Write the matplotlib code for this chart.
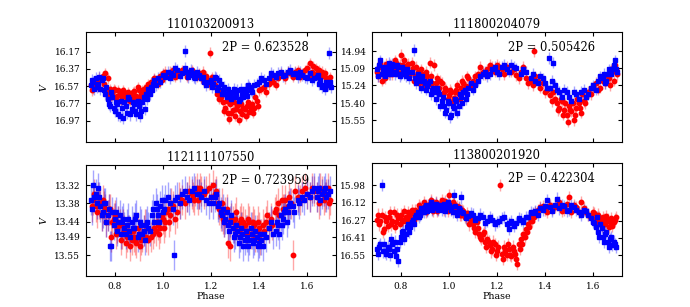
import numpy as np
import matplotlib
matplotlib.use('Agg')
import matplotlib.pyplot as plt

plt.rcParams['font.family'] = 'DejaVu Serif'
plt.rcParams['mathtext.fontset'] = 'dejavuserif'

titles = ['110103200913', '111800204079', '112111107550', '113800201920']
periods = ['0.623528', '0.505426', '0.723959', '0.422304']

# tick labels as printed on each panel
yticks_1 = ['16.17', '16.37', '16.57', '16.77', '16.97']
yticks_2 = ['14.94', '15.09', '15.24', '15.40', '15.55']
yticks_3 = ['13.32', '13.38', '13.44', '13.49', '13.55']
yticks_4 = ['15.98', '16.12', '16.27', '16.41', '16.55']
ylims = [(17.22, 15.94), (15.74, 14.77), (13.619, 13.254), (16.72, 15.80)]
xticks = [0.8, 1.0, 1.2, 1.4, 1.6]

# ---- panel 1 : 110103200913
red1_phase = [0.70, 0.71, 0.72, 0.73, 0.74, 0.75, 0.76, 0.77, 0.78, 0.79, 0.80, 0.81, 0.82, 0.83,
              0.84, 0.85, 0.86, 0.87, 0.88, 0.89, 0.90, 0.91, 0.92, 0.93, 0.94, 0.95, 0.96, 0.97,
              0.99, 1.00, 1.02, 1.03, 1.05, 1.07, 1.09, 1.11, 1.13, 1.15, 1.16, 1.17, 1.18, 1.19,
              1.197, 1.21, 1.22, 1.23, 1.24, 1.25, 1.26, 1.27, 1.28, 1.29, 1.30, 1.31, 1.32, 1.33,
              1.34, 1.35, 1.36, 1.37, 1.38, 1.39, 1.40, 1.42, 1.44, 1.46, 1.48, 1.50, 1.52, 1.54,
              1.56, 1.58, 1.60, 1.61, 1.62, 1.63, 1.64, 1.65, 1.67, 1.68, 1.69,
              0.705, 0.715, 0.735, 0.755, 0.765, 0.775, 0.785, 0.795, 0.805, 0.815, 0.825, 0.835,
              0.845, 0.855, 0.865, 0.875, 0.885, 0.895, 0.905, 0.915, 0.935, 0.945, 0.965, 0.98,
              0.995, 1.01, 1.04, 1.06, 1.08, 1.10, 1.12, 1.14, 1.165, 1.185, 1.205, 1.215, 1.225,
              1.235, 1.245, 1.255, 1.265, 1.275, 1.285, 1.295, 1.305, 1.315, 1.325, 1.335, 1.345,
              1.355, 1.365, 1.375, 1.385, 1.395, 1.41, 1.43, 1.45, 1.47, 1.49, 1.51, 1.53, 1.55,
              1.57, 1.59, 1.615, 1.625, 1.635, 1.645, 1.655, 1.66, 1.675, 1.685, 1.695]
red1_mag = [16.56, 16.60, 16.53, 16.58, 16.50, 16.45, 16.42, 16.48, 16.60, 16.65, 16.62, 16.68, 16.66, 16.70,
            16.64, 16.72, 16.66, 16.70, 16.63, 16.68, 16.62, 16.66, 16.60, 16.58, 16.55, 16.52, 16.54, 16.50,
            16.45, 16.42, 16.44, 16.40, 16.46, 16.43, 16.40, 16.41, 16.44, 16.42, 16.47, 16.52, 16.45, 16.55,
            16.18, 16.50, 16.58, 16.62, 16.70, 16.75, 16.82, 16.88, 16.78, 16.85, 16.92, 16.80, 16.86, 16.90,
            16.84, 16.80, 16.87, 16.78, 16.83, 16.74, 16.62, 16.58, 16.55, 16.52, 16.48, 16.44, 16.40, 16.46,
            16.38, 16.42, 16.36, 16.30, 16.40, 16.44, 16.42, 16.38, 16.45, 16.48, 16.50,
            16.62, 16.55, 16.47, 16.55, 16.62, 16.66, 16.70, 16.60, 16.72, 16.62, 16.74, 16.62,
            16.68, 16.64, 16.74, 16.64, 16.70, 16.58, 16.70, 16.62, 16.64, 16.58, 16.48, 16.54,
            16.50, 16.40, 16.38, 16.44, 16.38, 16.46, 16.38, 16.46, 16.40, 16.50, 16.46, 16.56, 16.66,
            16.72, 16.64, 16.86, 16.74, 16.95, 16.88, 16.76, 16.84, 16.96, 16.78, 16.82, 16.92,
            16.76, 16.82, 16.88, 16.70, 16.80, 16.60, 16.64, 16.50, 16.56, 16.42, 16.48, 16.42, 16.40,
            16.46, 16.38, 16.44, 16.34, 16.36, 16.46, 16.44, 16.40, 16.42, 16.54, 16.46]
blue1_phase = [0.70, 0.71, 0.72, 0.73, 0.74, 0.745, 0.75, 0.76, 0.77, 0.78, 0.79, 0.80, 0.81, 0.82,
               0.83, 0.84, 0.85, 0.86, 0.87, 0.88, 0.89, 0.90, 0.91, 0.92, 0.93, 0.94, 0.95, 0.96,
               0.97, 0.98, 1.00, 1.02, 1.03, 1.04, 1.06, 1.08, 1.10, 1.093, 1.12, 1.13, 1.14, 1.16,
               1.17, 1.18, 1.20, 1.21, 1.22, 1.23, 1.24, 1.25, 1.26, 1.27, 1.28, 1.29, 1.30, 1.31,
               1.32, 1.33, 1.34, 1.35, 1.36, 1.37, 1.38, 1.40, 1.42, 1.44, 1.46, 1.48, 1.50, 1.52,
               1.54, 1.56, 1.58, 1.60, 1.62, 1.64, 1.65, 1.66, 1.67, 1.68, 1.692, 1.70,
               0.705, 0.715, 0.725, 0.735, 0.755, 0.765, 0.775, 0.785, 0.795, 0.805, 0.815, 0.825,
               0.835, 0.845, 0.855, 0.865, 0.875, 0.885, 0.895, 0.905, 0.915, 0.925, 0.935, 0.945,
               0.955, 0.965, 0.99, 1.01, 1.035, 1.05, 1.07, 1.09, 1.105, 1.115, 1.125, 1.135, 1.15,
               1.165, 1.19, 1.205, 1.215, 1.225, 1.235, 1.245, 1.255, 1.265, 1.275, 1.285, 1.295,
               1.305, 1.315, 1.325, 1.335, 1.345, 1.355, 1.365, 1.39, 1.41, 1.43, 1.45, 1.47, 1.49,
               1.51, 1.53, 1.55, 1.57, 1.59, 1.61, 1.63, 1.645, 1.655, 1.675, 1.685, 1.695]
blue1_mag = [16.56, 16.52, 16.48, 16.55, 16.60, 16.50, 16.47, 16.66, 16.72, 16.80, 16.70, 16.86, 16.78, 16.92,
             16.82, 16.76, 16.88, 16.72, 16.84, 16.78, 16.90, 16.80, 16.86, 16.70, 16.66, 16.60, 16.58, 16.54,
             16.56, 16.48, 16.44, 16.40, 16.48, 16.44, 16.38, 16.42, 16.40, 16.16, 16.44, 16.46, 16.40, 16.48,
             16.52, 16.56, 16.50, 16.55, 16.48, 16.58, 16.54, 16.62, 16.66, 16.60, 16.68, 16.64, 16.70, 16.62,
             16.72, 16.66, 16.60, 16.68, 16.58, 16.64, 16.56, 16.52, 16.50, 16.47, 16.44, 16.42, 16.45, 16.40,
             16.43, 16.46, 16.44, 16.48, 16.50, 16.46, 16.54, 16.58, 16.56, 16.52, 16.18, 16.58,
             16.50, 16.60, 16.58, 16.46, 16.62, 16.58, 16.78, 16.64, 16.82, 16.76, 16.90, 16.74,
             16.94, 16.80, 16.70, 16.90, 16.76, 16.86, 16.74, 16.92, 16.76, 16.84, 16.72, 16.66,
             16.62, 16.50, 16.52, 16.46, 16.42, 16.36, 16.45, 16.36, 16.46, 16.38, 16.42, 16.48, 16.44,
             16.46, 16.52, 16.58, 16.46, 16.62, 16.50, 16.66, 16.58, 16.70, 16.64, 16.72, 16.60,
             16.66, 16.74, 16.60, 16.70, 16.64, 16.56, 16.62, 16.54, 16.48, 16.54, 16.42, 16.46, 16.40,
             16.44, 16.38, 16.42, 16.40, 16.46, 16.42, 16.48, 16.44, 16.50, 16.60, 16.56, 16.52]

# ---- panel 2 : 111800204079
red2_phase = [0.70, 0.71, 0.72, 0.73, 0.74, 0.75, 0.76, 0.77, 0.78, 0.79, 0.80, 0.81, 0.82, 0.83,
              0.84, 0.85, 0.86, 0.87, 0.88, 0.89, 0.90, 0.91, 0.92, 0.93, 0.94, 0.95, 0.96, 0.97,
              0.98, 0.99, 1.00, 1.01, 1.02, 1.03, 1.04, 1.05, 1.06, 1.07, 1.08, 1.10, 1.12, 1.14,
              1.16, 1.18, 1.20, 1.22, 1.24, 1.355, 1.26, 1.28, 1.30, 1.32, 1.34, 1.36, 1.38, 1.39,
              1.40, 1.42, 1.44, 1.45, 1.46, 1.47, 1.48, 1.49, 1.50, 1.51, 1.52, 1.53, 1.54, 1.55,
              1.56, 1.57, 1.58, 1.60, 1.62, 1.64, 1.66, 1.67, 1.68, 1.69, 1.70,
              0.705, 0.715, 0.725, 0.735, 0.745, 0.755, 0.765, 0.775, 0.785, 0.795, 0.805, 0.815,
              0.825, 0.835, 0.845, 0.855, 0.865, 0.875, 0.885, 0.895, 0.905, 0.915, 0.925, 0.935,
              0.945, 0.955, 0.965, 0.975, 0.985, 0.995, 1.005, 1.015, 1.025, 1.035, 1.045, 1.055,
              1.065, 1.075, 1.09, 1.11, 1.13, 1.15, 1.17, 1.19, 1.21, 1.23, 1.27, 1.29, 1.31, 1.33,
              1.35, 1.37, 1.41, 1.43, 1.435, 1.455, 1.465, 1.475, 1.485, 1.495, 1.505, 1.515, 1.525,
              1.535, 1.545, 1.555, 1.565, 1.59, 1.61, 1.63, 1.65, 1.665, 1.675, 1.685, 1.695]
red2_mag = [15.12, 15.08, 15.20, 15.10, 15.05, 15.14, 15.07, 15.10, 15.04, 15.08, 14.97, 15.06, 15.10, 15.05,
            15.13, 15.09, 15.16, 15.12, 15.18, 15.14, 15.20, 15.16, 15.04, 15.22, 15.06, 15.18, 15.26, 15.22,
            15.30, 15.28, 15.33, 15.30, 15.35, 15.28, 15.32, 15.26, 15.22, 15.25, 15.18, 15.20, 15.14, 15.12,
            15.10, 15.08, 15.06, 15.10, 15.08, 14.94, 15.12, 15.15, 15.12, 15.18, 15.20, 15.16, 15.26, 15.22,
            15.30, 15.33, 15.36, 15.40, 15.44, 15.38, 15.46, 15.50, 15.42, 15.47, 15.55, 15.44, 15.40, 15.48,
            15.38, 15.34, 15.30, 15.26, 15.28, 15.20, 15.16, 15.24, 15.12, 15.06, 15.14,
            15.16, 15.04, 15.12, 15.18, 15.10, 15.06, 15.14, 15.02, 15.12, 15.06, 15.12, 15.02,
            15.08, 15.14, 15.04, 15.20, 15.08, 15.22, 15.10, 15.24, 15.12, 15.24, 15.16, 15.26,
            15.22, 15.28, 15.20, 15.32, 15.26, 15.36, 15.28, 15.38, 15.30, 15.24, 15.36, 15.20,
            15.30, 15.16, 15.24, 15.16, 15.08, 15.14, 15.06, 15.12, 15.08, 15.14, 15.10, 15.18, 15.08, 15.22,
            15.24, 15.20, 15.28, 15.38, 15.30, 15.46, 15.36, 15.50, 15.40, 15.56, 15.46, 15.40, 15.50,
            15.36, 15.44, 15.32, 15.40, 15.32, 15.22, 15.26, 15.22, 15.18, 15.10, 15.20, 15.10]
blue2_phase = [0.70, 0.71, 0.72, 0.73, 0.74, 0.75, 0.76, 0.77, 0.78, 0.79, 0.80, 0.81, 0.82, 0.83,
               0.855, 0.86, 0.87, 0.88, 0.89, 0.90, 0.91, 0.92, 0.93, 0.94, 0.95, 0.96, 0.97, 0.98,
               0.99, 1.00, 1.01, 1.02, 1.03, 1.04, 1.05, 1.06, 1.07, 1.08, 1.10, 1.12, 1.14, 1.16,
               1.18, 1.20, 1.22, 1.24, 1.26, 1.28, 1.415, 1.30, 1.32, 1.435, 1.34, 1.36, 1.38, 1.40,
               1.42, 1.44, 1.46, 1.48, 1.50, 1.52, 1.54, 1.56, 1.58, 1.60, 1.62, 1.64, 1.65, 1.66,
               1.68, 1.69, 1.70,
               0.705, 0.715, 0.725, 0.735, 0.745, 0.755, 0.765, 0.775, 0.785, 0.795, 0.805, 0.815,
               0.825, 0.835, 0.845, 0.865, 0.875, 0.885, 0.895, 0.905, 0.915, 0.925, 0.935, 0.945,
               0.955, 0.965, 0.975, 0.985, 0.995, 1.005, 1.015, 1.025, 1.035, 1.045, 1.055, 1.065,
               1.075, 1.09, 1.11, 1.13, 1.15, 1.17, 1.19, 1.21, 1.23, 1.25, 1.27, 1.31, 1.35, 1.37,
               1.39, 1.41, 1.43, 1.45, 1.47, 1.49, 1.51, 1.53, 1.55, 1.57, 1.59, 1.61, 1.63, 1.645,
               1.655, 1.665, 1.675, 1.685, 1.695]
blue2_mag = [15.10, 15.06, 15.14, 15.08, 15.12, 15.04, 15.10, 15.07, 15.12, 15.08, 15.14, 15.10, 15.16, 15.12,
             14.93, 15.18, 15.14, 15.20, 15.16, 15.22, 15.25, 15.20, 15.28, 15.30, 15.26, 15.32, 15.38, 15.42,
             15.46, 15.40, 15.50, 15.44, 15.38, 15.42, 15.34, 15.30, 15.36, 15.26, 15.28, 15.20, 15.14, 15.16,
             15.10, 15.12, 15.08, 15.10, 15.06, 15.09, 15.00, 15.14, 15.12, 15.04, 15.18, 15.20, 15.16, 15.22,
             15.26, 15.24, 15.30, 15.28, 15.34, 15.30, 15.36, 15.28, 15.32, 15.24, 15.20, 15.18, 15.22, 15.14,
             15.10, 15.02, 15.12,
             15.16, 15.02, 15.10, 15.16, 15.08, 15.14, 15.05, 15.14, 15.06, 15.16, 15.08, 15.14,
             15.10, 15.18, 15.12, 15.22, 15.16, 15.26, 15.20, 15.28, 15.22, 15.32, 15.26, 15.36,
             15.30, 15.42, 15.34, 15.48, 15.38, 15.52, 15.42, 15.36, 15.48, 15.32, 15.40, 15.28,
             15.32, 15.22, 15.24, 15.16, 15.12, 15.14, 15.08, 15.14, 15.06, 15.12, 15.08, 15.10, 15.14, 15.22,
             15.18, 15.26, 15.20, 15.28, 15.34, 15.30, 15.38, 15.32, 15.30, 15.34, 15.26, 15.28, 15.16, 15.14,
             15.20, 15.10, 15.14, 15.06, 15.10]

# ---- panel 3 : 112111107550
red3_phase = [0.71, 0.72, 0.73, 0.74, 0.75, 0.76, 0.77, 0.78, 0.79, 0.80, 0.81, 0.82, 0.83, 0.84,
              0.85, 0.86, 0.87, 0.88, 0.89, 0.90, 0.91, 0.92, 0.93, 0.96, 0.97, 0.98, 0.99, 1.00,
              1.01, 1.02, 1.03, 1.04, 1.06, 1.07, 1.08, 1.10, 1.12, 1.13, 1.14, 1.15, 1.16, 1.18,
              1.20, 1.21, 1.22, 1.23, 1.24, 1.25, 1.26, 1.27, 1.28, 1.29, 1.30, 1.31, 1.32, 1.33,
              1.34, 1.35, 1.36, 1.37, 1.38, 1.39, 1.40, 1.41, 1.43, 1.44, 1.45, 1.47, 1.48, 1.50,
              1.51, 1.52, 1.54, 1.56, 1.58, 1.60, 1.62, 1.64, 1.66, 1.67, 1.68, 1.69,
              0.705, 0.715, 0.725, 0.735, 0.745, 0.755, 0.765, 0.775, 0.785, 0.795, 0.805, 0.815,
              0.825, 0.835, 0.845, 0.855, 0.865, 0.875, 0.885, 0.895, 0.905, 0.915, 0.925, 0.94,
              0.95, 0.965, 0.975, 0.985, 0.995, 1.005, 1.015, 1.025, 1.035, 1.05, 1.065, 1.09, 1.11,
              1.125, 1.135, 1.145, 1.155, 1.17, 1.19, 1.215, 1.235, 1.245, 1.255, 1.265, 1.285, 1.295,
              1.305, 1.315, 1.325, 1.335, 1.345, 1.355, 1.365, 1.375, 1.385, 1.395, 1.405, 1.415,
              1.42, 1.435, 1.455, 1.465, 1.485, 1.495, 1.505, 1.525, 1.535, 1.55, 1.57, 1.59, 1.61,
              1.63, 1.65, 1.655, 1.675, 1.685, 1.695]
red3_mag = [13.37, 13.39, 13.36, 13.38, 13.37, 13.40, 13.42, 13.40, 13.44, 13.42, 13.46, 13.45, 13.48, 13.47,
            13.49, 13.48, 13.50, 13.49, 13.51, 13.48, 13.50, 13.47, 13.49, 13.48, 13.47, 13.45, 13.46, 13.43,
            13.44, 13.40, 13.42, 13.39, 13.41, 13.38, 13.37, 13.36, 13.35, 13.37, 13.33, 13.35, 13.34, 13.34,
            13.36, 13.32, 13.34, 13.38, 13.42, 13.43, 13.41, 13.51, 13.52, 13.44, 13.43, 13.45, 13.44, 13.46,
            13.45, 13.47, 13.44, 13.46, 13.45, 13.47, 13.46, 13.48, 13.44, 13.46, 13.43, 13.40, 13.38, 13.40,
            13.37, 13.39, 13.55, 13.36, 13.34, 13.35, 13.33, 13.36, 13.34, 13.37, 13.35, 13.38,
            13.39, 13.35, 13.41, 13.38, 13.42, 13.39, 13.44, 13.40, 13.49, 13.43, 13.48, 13.44,
            13.50, 13.45, 13.51, 13.47, 13.52, 13.47, 13.50, 13.46, 13.52, 13.49, 13.45, 13.50,
            13.49, 13.46, 13.44, 13.48, 13.42, 13.46, 13.41, 13.44, 13.38, 13.43, 13.36, 13.38, 13.34,
            13.36, 13.34, 13.37, 13.33, 13.35, 13.33, 13.35, 13.40, 13.38, 13.44, 13.40, 13.43, 13.46,
            13.41, 13.47, 13.43, 13.44, 13.48, 13.43, 13.48, 13.44, 13.49, 13.44, 13.50, 13.45,
            13.47, 13.42, 13.45, 13.41, 13.42, 13.37, 13.40, 13.36, 13.38, 13.34, 13.37, 13.33, 13.36,
            13.34, 13.38, 13.33, 13.36, 13.33, 13.37]
blue3_phase = [0.70, 0.71, 0.72, 0.73, 0.74, 0.75, 0.76, 0.77, 0.78, 0.785, 0.79, 0.80, 0.81, 0.82,
               0.83, 0.84, 0.85, 0.86, 0.87, 0.88, 0.89, 0.90, 0.91, 0.92, 0.93, 0.94, 0.96, 0.97,
               0.98, 0.99, 1.00, 1.01, 1.03, 1.045, 1.05, 1.06, 1.08, 1.10, 1.12, 1.14, 1.16, 1.18,
               1.20, 1.21, 1.22, 1.23, 1.24, 1.25, 1.26, 1.27, 1.28, 1.29, 1.30, 1.31, 1.32, 1.33,
               1.34, 1.35, 1.36, 1.37, 1.38, 1.39, 1.40, 1.41, 1.42, 1.44, 1.45, 1.47, 1.48, 1.49,
               1.50, 1.51, 1.52, 1.53, 1.54, 1.56, 1.58, 1.60, 1.62, 1.64, 1.65, 1.66, 1.67, 1.68,
               0.705, 0.715, 0.725, 0.735, 0.745, 0.755, 0.765, 0.775, 0.795, 0.805, 0.815, 0.825,
               0.835, 0.845, 0.855, 0.865, 0.875, 0.885, 0.895, 0.905, 0.915, 0.925, 0.935, 0.945,
               0.955, 0.965, 0.975, 0.985, 0.995, 1.005, 1.02, 1.04, 1.07, 1.09, 1.11, 1.13, 1.15,
               1.17, 1.19, 1.215, 1.235, 1.245, 1.255, 1.265, 1.275, 1.285, 1.295, 1.305, 1.315,
               1.325, 1.335, 1.345, 1.355, 1.365, 1.375, 1.385, 1.395, 1.405, 1.415, 1.43, 1.46,
               1.475, 1.485, 1.495, 1.505, 1.515, 1.525, 1.545, 1.565, 1.585, 1.61, 1.63, 1.645,
               1.655, 1.675, 1.685, 1.695]
blue3_mag = [13.37, 13.32, 13.35, 13.33, 13.39, 13.41, 13.38, 13.42, 13.52, 13.52, 13.41, 13.43, 13.47, 13.42,
             13.44, 13.46, 13.45, 13.47, 13.44, 13.46, 13.42, 13.48, 13.45, 13.47, 13.45, 13.46, 13.40, 13.38,
             13.42, 13.39, 13.41, 13.37, 13.38, 13.55, 13.37, 13.36, 13.35, 13.36, 13.34, 13.35, 13.36, 13.37,
             13.36, 13.38, 13.35, 13.39, 13.41, 13.40, 13.43, 13.45, 13.44, 13.46, 13.48, 13.47, 13.49, 13.48,
             13.50, 13.49, 13.50, 13.48, 13.50, 13.49, 13.51, 13.50, 13.48, 13.46, 13.44, 13.47, 13.45, 13.42,
             13.43, 13.40, 13.41, 13.38, 13.39, 13.37, 13.36, 13.35, 13.34, 13.36, 13.33, 13.35, 13.34, 13.36,
             13.40, 13.36, 13.38, 13.36, 13.42, 13.38, 13.44, 13.40, 13.45, 13.41, 13.44, 13.48,
             13.43, 13.48, 13.43, 13.49, 13.46, 13.43, 13.49, 13.44, 13.48, 13.50, 13.44, 13.47,
             13.42, 13.44, 13.40, 13.44, 13.37, 13.40, 13.36, 13.40, 13.38, 13.34, 13.37, 13.33, 13.35,
             13.34, 13.38, 13.36, 13.38, 13.42, 13.44, 13.41, 13.47, 13.42, 13.49, 13.45, 13.51,
             13.46, 13.52, 13.47, 13.52, 13.46, 13.51, 13.47, 13.52, 13.48, 13.52, 13.49, 13.48,
             13.44, 13.48, 13.45, 13.41, 13.44, 13.39, 13.41, 13.38, 13.37, 13.36, 13.33, 13.34,
             13.37, 13.33, 13.35, 13.34]

# ---- panel 4 : 113800201920
red4_phase = [0.70, 0.71, 0.72, 0.73, 0.74, 0.75, 0.76, 0.77, 0.78, 0.79, 0.80, 0.81, 0.82, 0.83,
              0.84, 0.85, 0.86, 0.87, 0.88, 0.89, 0.90, 0.91, 0.92, 0.93, 0.94, 0.95, 0.96, 0.97,
              0.98, 0.99, 1.00, 1.01, 1.02, 1.03, 1.04, 1.05, 1.06, 1.07, 1.08, 1.09, 1.10, 1.11,
              1.12, 1.13, 1.14, 1.15, 1.16, 1.17, 1.18, 1.19, 1.20, 1.214, 1.22, 1.23, 1.24, 1.25,
              1.26, 1.27, 1.28, 1.29, 1.30, 1.31, 1.32, 1.33, 1.34, 1.35, 1.36, 1.38, 1.40, 1.42,
              1.44, 1.46, 1.48, 1.50, 1.52, 1.54, 1.56, 1.58, 1.60, 1.61, 1.62, 1.63, 1.64, 1.65,
              1.66, 1.67, 1.68, 1.69,
              0.705, 0.715, 0.725, 0.735, 0.745, 0.755, 0.765, 0.775, 0.785, 0.795, 0.805, 0.815,
              0.825, 0.835, 0.845, 0.855, 0.865, 0.875, 0.885, 0.895, 0.905, 0.915, 0.925, 0.935,
              0.945, 0.955, 0.965, 0.975, 0.985, 0.995, 1.005, 1.015, 1.025, 1.035, 1.045, 1.055,
              1.065, 1.075, 1.085, 1.095, 1.105, 1.115, 1.125, 1.135, 1.145, 1.155, 1.165, 1.175,
              1.185, 1.195, 1.205, 1.225, 1.235, 1.245, 1.255, 1.265, 1.275, 1.285, 1.295, 1.305,
              1.315, 1.325, 1.335, 1.345, 1.355, 1.37, 1.39, 1.41, 1.43, 1.45, 1.47, 1.49, 1.51,
              1.53, 1.55, 1.57, 1.59, 1.605, 1.615, 1.625, 1.635, 1.645, 1.655, 1.665, 1.675,
              1.685, 1.695]
red4_mag = [16.26, 16.30, 16.22, 16.34, 16.27, 16.24, 16.30, 16.20, 16.28, 16.25, 16.22, 16.27, 16.24, 16.20,
            16.25, 16.21, 16.18, 16.22, 16.16, 16.20, 16.15, 16.18, 16.13, 16.17, 16.14, 16.19, 16.16, 16.10,
            16.18, 16.15, 16.06, 16.17, 16.13, 16.20, 16.16, 16.22, 16.19, 16.25, 16.23, 16.27, 16.30, 16.36,
            16.33, 16.40, 16.38, 16.44, 16.42, 16.47, 16.50, 16.46, 16.52, 15.98, 16.54, 16.48, 16.55, 16.50,
            16.56, 16.52, 16.58, 16.46, 16.42, 16.38, 16.34, 16.30, 16.26, 16.22, 16.20, 16.16, 16.18, 16.14,
            16.16, 16.12, 16.18, 16.08, 16.14, 16.20, 16.17, 16.22, 16.20, 16.25, 16.22, 16.27, 16.24, 16.30,
            16.26, 16.28, 16.31, 16.26,
            16.22, 16.27, 16.36, 16.24, 16.31, 16.20, 16.27, 16.32, 16.22, 16.30, 16.26, 16.19,
            16.28, 16.23, 16.18, 16.26, 16.21, 16.14, 16.19, 16.12, 16.20, 16.14, 16.10, 16.19,
            16.12, 16.17, 16.13, 16.16, 16.11, 16.19, 16.14, 16.12, 16.18, 16.15, 16.22, 16.18,
            16.24, 16.21, 16.30, 16.24, 16.33, 16.28, 16.38, 16.42, 16.36, 16.48, 16.44, 16.52,
            16.44, 16.55, 16.48, 16.58, 16.52, 16.46, 16.55, 16.48, 16.54, 16.62, 16.50, 16.46,
            16.40, 16.36, 16.32, 16.27, 16.24, 16.18, 16.15, 16.20, 16.17, 16.14, 16.19, 16.13, 16.20,
            16.16, 16.12, 16.20, 16.24, 16.21, 16.28, 16.24, 16.31, 16.26, 16.23, 16.32, 16.25,
            16.28, 16.24]
blue4_phase = [0.70, 0.71, 0.72, 0.725, 0.73, 0.74, 0.75, 0.76, 0.77, 0.78, 0.79, 0.80, 0.81, 0.82,
               0.83, 0.84, 0.85, 0.86, 0.87, 0.88, 0.89, 0.90, 0.91, 0.92, 0.93, 0.94, 0.95, 0.96,
               0.97, 0.98, 0.99, 1.00, 1.01, 1.02, 1.03, 1.04, 1.05, 1.06, 1.08, 1.10, 1.12, 1.14,
               1.16, 1.18, 1.20, 1.22, 1.24, 1.25, 1.26, 1.28, 1.30, 1.32, 1.34, 1.36, 1.38, 1.40,
               1.41, 1.42, 1.44, 1.45, 1.46, 1.48, 1.50, 1.52, 1.54, 1.56, 1.58, 1.60, 1.61, 1.62,
               1.63, 1.64, 1.65, 1.66, 1.67, 1.68, 1.69,
               0.705, 0.715, 0.735, 0.745, 0.755, 0.765, 0.775, 0.785, 0.795, 0.805, 0.815, 0.825,
               0.835, 0.845, 0.855, 0.865, 0.875, 0.885, 0.895, 0.905, 0.915, 0.925, 0.935, 0.945,
               0.955, 0.965, 0.975, 0.985, 0.995, 1.005, 1.015, 1.025, 1.035, 1.045, 1.055, 1.07,
               1.09, 1.11, 1.13, 1.15, 1.17, 1.19, 1.21, 1.23, 1.25, 1.27, 1.29, 1.31, 1.33, 1.35,
               1.37, 1.39, 1.43, 1.47, 1.49, 1.51, 1.53, 1.55, 1.57, 1.59, 1.605, 1.615, 1.625,
               1.635, 1.645, 1.655, 1.665, 1.675, 1.685, 1.695]
blue4_mag = [16.50, 16.48, 15.98, 16.52, 16.46, 16.54, 16.50, 16.42, 16.52, 16.56, 16.60, 16.40, 16.35, 16.38,
             16.30, 16.32, 16.26, 16.24, 16.20, 16.22, 16.18, 16.16, 16.19, 16.15, 16.18, 16.14, 16.17, 16.15,
             16.18, 16.13, 16.16, 16.14, 16.18, 16.06, 16.20, 16.17, 16.08, 16.21, 16.23, 16.22, 16.25, 16.24,
             16.27, 16.26, 16.28, 16.25, 16.30, 16.34, 16.27, 16.29, 16.26, 16.24, 16.20, 16.19, 16.17, 16.15,
             16.10, 16.16, 16.14, 16.09, 16.17, 16.15, 16.18, 16.16, 16.20, 16.18, 16.22, 16.28, 16.32, 16.36,
             16.30, 16.40, 16.38, 16.44, 16.42, 16.47, 16.46,
             16.54, 16.46, 16.52, 16.48, 16.55, 16.46, 16.44, 16.50, 16.44, 16.36, 16.42, 16.32,
             16.36, 16.28, 16.30, 16.22, 16.24, 16.17, 16.20, 16.14, 16.17, 16.12, 16.16, 16.13,
             16.18, 16.14, 16.16, 16.19, 16.12, 16.16, 16.20, 16.15, 16.22, 16.18, 16.20, 16.25,
             16.21, 16.26, 16.22, 16.29, 16.24, 16.30, 16.27, 16.24, 16.29, 16.31, 16.25, 16.28, 16.24, 16.21,
             16.22, 16.18, 16.19, 16.14, 16.19, 16.14, 16.18, 16.22, 16.19, 16.25, 16.29, 16.24, 16.40,
             16.33, 16.44, 16.36, 16.48, 16.40, 16.44, 16.48]

# typical photometric errors
red_err = [0.06, 0.05, 0.05, 0.05]
blue_err = [0.07, 0.05, 0.05, 0.05]

panels = [
    (red1_phase, red1_mag, blue1_phase, blue1_mag, yticks_1),
    (red2_phase, red2_mag, blue2_phase, blue2_mag, yticks_2),
    (red3_phase, red3_mag, blue3_phase, blue3_mag, yticks_3),
    (red4_phase, red4_mag, blue4_phase, blue4_mag, yticks_4),
]

fig = plt.figure(figsize=(6.9, 3.07), dpi=100)
rects = [[0.1246, 0.5375, 0.3623, 0.3583],
         [0.5391, 0.5375, 0.3623, 0.3583],
         [0.1246, 0.1010, 0.3623, 0.3615],
         [0.5391, 0.1010, 0.3623, 0.3680]]

for i, (rp, rm, bp, bm, yt) in enumerate(panels):
    ax = fig.add_axes(rects[i])
    ax.errorbar(rp, rm, yerr=red_err[i], fmt='o', color='r', mec='r', ms=3.2,
                ecolor=(1, 0, 0, 0.35), elinewidth=1, capsize=0)
    ax.errorbar(bp, bm, yerr=blue_err[i], fmt='s', color='b', mec='b', ms=3.2,
                ecolor=(0, 0, 1, 0.35), elinewidth=1, capsize=0)
    ax.set_xlim(0.68, 1.72)
    ax.set_ylim(*ylims[i])
    ax.set_yticks([float(t) for t in yt])
    ax.set_yticklabels(yt)
    ax.set_xticks(xticks)
    ax.tick_params(direction='in', top=True, right=True, length=3, labelsize=6.5, pad=4)
    if i >= 2:
        ax.set_xticklabels(['%.1f' % t for t in xticks])
        ax.set_xlabel('Phase', fontsize=6.8, labelpad=1)
    else:
        ax.set_xticklabels([])
    if i % 2 == 0:
        ax.set_ylabel('$V$', fontsize=7)
    ax.set_title(titles[i], fontsize=8.3, pad=3)
    ax.text(0.545, 0.86, '2P = ' + periods[i], transform=ax.transAxes,
            fontsize=8.3, va='center', ha='left')

plt.savefig('out.png', dpi=100)
